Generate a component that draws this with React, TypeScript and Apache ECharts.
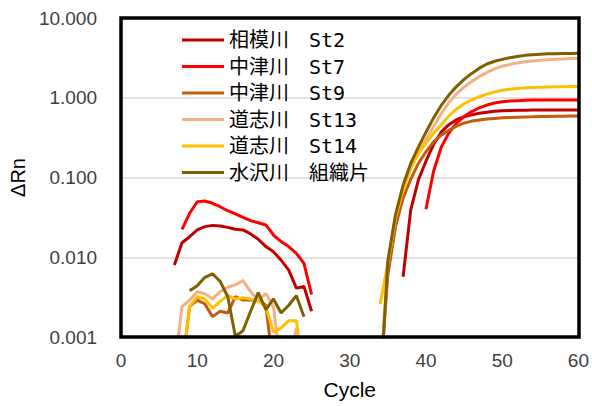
import React, { useEffect, useRef } from "react";
import * as echarts from "echarts";

// ---- data (ΔRn per cycle) ----
const seriesNames = [
  "相模川　St2",
  "中津川　St7",
  "中津川　St9",
  "道志川　St13",
  "道志川　St14",
  "水沢川　組織片",
];
const seriesColors = ["#C00000", "#FF0000", "#C55A11", "#F4B183", "#FFC000", "#7F6000"];

const xTicks = [0, 10, 20, 30, 40, 50, 60];
const yTicks = [0.001, 0.01, 0.1, 1, 10];

// 相模川 St2
const st2LeftStart = 7;
const st2Left = [0.008, 0.0152, 0.0181, 0.022, 0.0242, 0.0251, 0.0247, 0.0237, 0.0224, 0.022, 0.0196, 0.0168, 0.0136, 0.0117, 0.0092, 0.0069, 0.0041, 0.0043, 0.0021];
const st2RightStart = 37;
const st2Right = [0.0057, 0.039, 0.093, 0.16, 0.26, 0.37, 0.46, 0.53, 0.575, 0.61, 0.64, 0.66, 0.675, 0.685, 0.69, 0.695, 0.698, 0.7, 0.7, 0.7, 0.7, 0.7, 0.7, 0.7];

// 中津川 St7
const st7LeftStart = 8;
const st7Left = [0.0224, 0.0356, 0.0497, 0.0507, 0.0475, 0.043, 0.0383, 0.0349, 0.0317, 0.0288, 0.0271, 0.0254, 0.019, 0.0157, 0.0136, 0.0112, 0.0084, 0.0034];
const st7RightStart = 40;
const st7Right = [0.04, 0.12, 0.24, 0.36, 0.48, 0.58, 0.67, 0.75, 0.81, 0.86, 0.89, 0.91, 0.92, 0.93, 0.935, 0.94, 0.94, 0.94, 0.94, 0.94, 0.94];

// 中津川 St9
const st9LeftStart = 8;
const st9Left = [0.0004, 0.0024, 0.0029, 0.0026, 0.0018, 0.0021, 0.002, 0.0032, 0.0029, 0.0029, 0.0029, 0.0025, 0.0004];
const st9RightStart = 34;
const st9Right = [0.0003, 0.006, 0.024, 0.055, 0.095, 0.15, 0.21, 0.28, 0.34, 0.39, 0.44, 0.48, 0.51, 0.525, 0.54, 0.55, 0.56, 0.565, 0.57, 0.573, 0.576, 0.58, 0.583, 0.585, 0.587, 0.589, 0.59];

// 道志川 St13
const st13LeftStart = 7;
const st13Left = [0.0004, 0.0024, 0.0029, 0.0037, 0.0035, 0.003, 0.0037, 0.0042, 0.0045, 0.0051, 0.0037, 0.0029, 0.0035, 0.0024, 0.0004, 0.0004, 0.0013, 0.0004];
const st13RightStart = 34;
const st13Right = [0.0003, 0.0085, 0.032, 0.075, 0.14, 0.21, 0.3, 0.44, 0.63, 0.87, 1.12, 1.36, 1.6, 1.84, 2.08, 2.3, 2.48, 2.62, 2.73, 2.82, 2.89, 2.95, 2.99, 3.03, 3.07, 3.1, 3.13];

// 道志川 St14
const st14LeftStart = 8;
const st14Left = [0.0004, 0.0024, 0.0032, 0.003, 0.0023, 0.0028, 0.0033, 0.003, 0.0031, 0.003, 0.0028, 0.0024, 0.00115, 0.0013, 0.0016, 0.0016, 0.0003];
const st14RightStart = 34;
const st14Right = [0.0026, 0.0084, 0.031, 0.07, 0.13, 0.2, 0.27, 0.36, 0.46, 0.59, 0.72, 0.84, 0.94, 1.03, 1.11, 1.18, 1.24, 1.28, 1.31, 1.33, 1.345, 1.355, 1.365, 1.37, 1.375, 1.38, 1.38];

// 水沢川 組織片
const tissueLeftStart = 9;
const tissueLeft = [0.0038, 0.0044, 0.0056, 0.0062, 0.005, 0.0032, 0.00102, 0.0012, 0.0021, 0.0036, 0.0022, 0.003, 0.002, 0.0025, 0.0033, 0.0018];
const tissueRightStart = 34;
const tissueRight = [0.0002, 0.009, 0.034, 0.08, 0.15, 0.24, 0.37, 0.56, 0.8, 1.08, 1.38, 1.7, 2.02, 2.35, 2.65, 2.87, 3.03, 3.18, 3.3, 3.4, 3.47, 3.52, 3.55, 3.57, 3.59, 3.6, 3.61];

function segment(start: number, values: number[]) {
  return values.map((v, i) => [start + i, v]);
}
function buildData(ls: number, l: number[], rs: number, r: number[]) {
  return [...segment(ls, l), [ls + l.length, null], ...segment(rs, r)];
}

const seriesData = [
  buildData(st2LeftStart, st2Left, st2RightStart, st2Right),
  buildData(st7LeftStart, st7Left, st7RightStart, st7Right),
  buildData(st9LeftStart, st9Left, st9RightStart, st9Right),
  buildData(st13LeftStart, st13Left, st13RightStart, st13Right),
  buildData(st14LeftStart, st14Left, st14RightStart, st14Right),
  buildData(tissueLeftStart, tissueLeft, tissueRightStart, tissueRight),
];

const GRID = { left: 121, top: 18, width: 458, height: 319 };
const LATIN = "'Liberation Sans', Arial, sans-serif";

export default function App() {
  const ref = useRef<HTMLDivElement>(null);
  useEffect(() => {
    if (!ref.current) return;
    const chart = echarts.init(ref.current, undefined, { renderer: "svg" });
    chart.setOption({
      animation: false,
      backgroundColor: "#ffffff",
      grid: { left: GRID.left, top: GRID.top, width: GRID.width, height: GRID.height, containLabel: false },
      legend: {
        show: true,
        orient: "vertical",
        left: 177,
        top: 24,
        itemWidth: 42,
        itemHeight: 3,
        itemGap: 4.5,
        icon: "rect",
        selectedMode: false,
        data: seriesNames,
        textStyle: {
          color: "#000000",
          fontSize: 20,
          lineHeight: 22,
          fontFamily: "'DejaVu Sans Mono', 'Noto Sans CJK JP', monospace",
          padding: [0, 0, 0, 0],
        },
      },
      xAxis: {
        type: "value",
        min: xTicks[0],
        max: xTicks[xTicks.length - 1],
        interval: 10,
        name: "Cycle",
        nameLocation: "middle",
        nameGap: 42,
        nameTextStyle: { color: "#000000", fontSize: 21, fontFamily: LATIN },
        axisLine: { show: false },
        axisTick: { show: false },
        splitLine: { show: false },
        axisLabel: { color: "#404040", fontSize: 19, fontFamily: LATIN, margin: 14 },
      },
      yAxis: {
        type: "log",
        logBase: 10,
        min: yTicks[0],
        max: yTicks[yTicks.length - 1],
        name: "ΔRn",
        nameLocation: "middle",
        nameGap: 93,
        nameRotate: 90,
        nameTextStyle: { color: "#000000", fontSize: 20, fontFamily: LATIN },
        axisLine: { show: false },
        axisTick: { show: false },
        splitLine: { show: true, lineStyle: { color: "#D9D9D9", width: 1.5 } },
        axisLabel: {
          color: "#404040",
          fontSize: 19,
          fontFamily: LATIN,
          margin: 24,
          formatter: (v: number) => Number(v).toFixed(3),
        },
      },
      graphic: [
        {
          type: "rect",
          z: 100,
          shape: { x: GRID.left, y: GRID.top, width: GRID.width, height: GRID.height },
          style: { fill: "none", stroke: "#000000", lineWidth: 3.5 },
          silent: true,
        },
      ],
      series: seriesNames.map((name, i) => ({
        name,
        type: "line",
        data: seriesData[i],
        showSymbol: false,
        symbol: "none",
        clip: true,
        connectNulls: false,
        color: seriesColors[i],
        lineStyle: { color: seriesColors[i], width: 3 },
      })),
    });
    return () => chart.dispose();
  }, []);
  return (
    <div
      ref={ref}
      style={{ position: "fixed", left: 0, top: 0, width: 592, height: 406, background: "#fff" }}
    />
  );
}
